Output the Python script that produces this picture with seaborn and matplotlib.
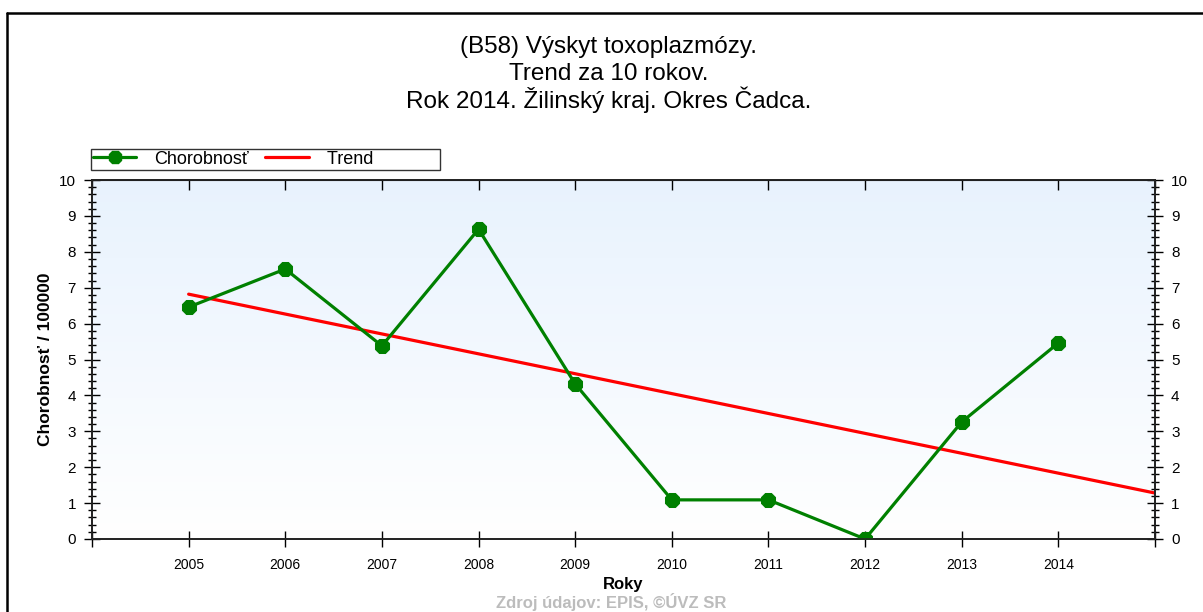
import numpy as np
import seaborn as sns
import matplotlib.pyplot as plt
from matplotlib.ticker import MultipleLocator
from matplotlib.lines import Line2D

# data
years = [2005, 2006, 2007, 2008, 2009, 2010, 2011, 2012, 2013, 2014]
chorobnost = [6.46, 7.52, 5.38, 8.63, 4.32, 1.09, 1.09, 0.0, 3.26, 5.46]
trend_years = [2005, 2015]
trend_values = [6.82, 1.28]

TITLE_LINES = ["(B58) Výskyt toxoplazmózy.", "Trend za 10 rokov.",
               "Rok 2014. Žilinský kraj. Okres Čadca."]
YLABEL = "Chorobnosť / 100000"
XLABEL = "Roky"
SOURCE = "Zdroj údajov: EPIS, ©ÚVZ SR"
LEGEND_LABELS = ["Chorobnosť", "Trend"]

GREEN = '#008000'
RED = '#ff0000'

sns.set_style('white')
plt.rcParams['font.family'] = ['Liberation Sans', 'DejaVu Sans']
plt.rcParams['text.color'] = 'black'
plt.rcParams['axes.labelcolor'] = 'black'
plt.rcParams['xtick.color'] = 'black'
plt.rcParams['ytick.color'] = 'black'

fig = plt.figure(figsize=(12.03, 6.12), dpi=100)
W, H = 1203, 612
ax = fig.add_axes([92 / W, 1 - 539 / H, (1155 - 92) / W, (539 - 180) / H])

# soft blue-to-white background gradient
grad = np.linspace(0, 1, 256).reshape(-1, 1)
top_c = np.array([0.91, 0.95, 0.995])
bot_c = np.array([1.0, 1.0, 1.0])
img = top_c * (1 - grad[..., None]) + bot_c * grad[..., None]
ax.imshow(img, extent=[2004, 2015, 0, 10], aspect='auto', origin='upper', zorder=0)

sns.lineplot(x=years, y=chorobnost, ax=ax, color=GREEN, lw=2.3, marker='8',
             markersize=10.5, markeredgecolor=GREEN, zorder=3)
sns.lineplot(x=trend_years, y=trend_values, ax=ax, color=RED, lw=2.3, zorder=2)

ax.set_xlim(2004, 2015)
ax.set_ylim(0, 10)
xt = [years[0] - 1] + years + [years[-1] + 1]
ax.set_xticks(xt, [''] + [str(y) for y in years] + [''])
ax.yaxis.set_major_locator(MultipleLocator(1))
ax.yaxis.set_minor_locator(MultipleLocator(0.2))
ax.tick_params(axis='x', direction='inout', length=11, width=1, labelsize=10, pad=8, bottom=True)
ax.tick_params(axis='y', which='major', direction='inout', length=11, width=1, labelsize=11, pad=6, left=True)
ax.tick_params(axis='y', which='minor', direction='inout', length=6, width=1, left=True)
for s in ax.spines.values():
    s.set_color('black')
    s.set_linewidth(1.2)

ax2 = ax.twinx()
ax2.set_ylim(0, 10)
ax2.yaxis.set_major_locator(MultipleLocator(1))
ax2.yaxis.set_minor_locator(MultipleLocator(0.2))
ax2.tick_params(axis='y', which='major', direction='inout', length=11, width=1, labelsize=11, pad=6, right=True)
ax2.tick_params(axis='y', which='minor', direction='inout', length=6, width=1, right=True)
for s in ax2.spines.values():
    s.set_linewidth(1.2)

top = ax.secondary_xaxis('top')
top.set_xticks(xt, [''] * len(xt))
top.tick_params(direction='in', length=7, width=1)

ax.set_ylabel(YLABEL, fontsize=12.5, fontweight='bold', labelpad=4)
ax.set_xlabel(XLABEL, fontsize=12, fontweight='bold', labelpad=4)

handles = [Line2D([], [], color=GREEN, lw=2.3, marker='8', markersize=10),
           Line2D([], [], color=RED, lw=2.3)]
leg = ax.legend(handles, [LEGEND_LABELS[0], LEGEND_LABELS[1] + '             '], ncol=2,
                loc='lower left', bbox_to_anchor=(-0.001, 1.028), fontsize=13,
                frameon=True, fancybox=False, handlelength=2.4, handletextpad=1.0,
                columnspacing=0.9, borderpad=0.12, borderaxespad=0)
leg.get_frame().set_edgecolor('black')
leg.get_frame().set_linewidth(1.0)

for line, y in zip(TITLE_LINES, [53, 80, 108]):
    fig.text(609 / W, 1 - y / H, line, ha='center', va='baseline', fontsize=17.5)
fig.text(611 / W, 1 - 611 / H, SOURCE, ha='center', va='bottom', fontsize=12,
         fontweight='bold', color='#bcbcbc')

# outer frame
fig.add_artist(Line2D([7 / W, 1], [1 - 13 / H, 1 - 13 / H], color='black', lw=1.8))
fig.add_artist(Line2D([7 / W, 7 / W], [0, 1 - 13 / H], color='black', lw=1.8))

fig.savefig('out.png', dpi=100)
